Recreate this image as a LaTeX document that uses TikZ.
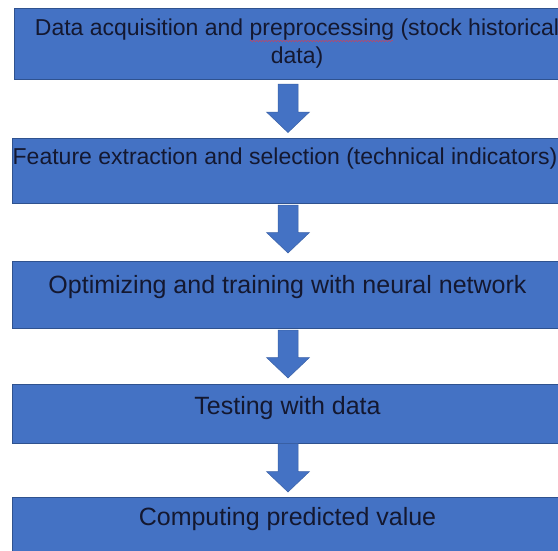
\documentclass[tikz,border=0pt]{standalone}
\usepackage{fontspec}
\setmainfont{Liberation Sans}
\usetikzlibrary{calc,decorations.pathmorphing}
\definecolor{boxblue}{HTML}{4472C4}
\definecolor{boxedge}{HTML}{2F528F}
\definecolor{txtcol}{HTML}{141830}
\definecolor{spellred}{HTML}{D0405A}
\tikzset{
  stepbox/.style={rectangle, draw=boxedge, line width=0.8pt, fill=boxblue, inner sep=0pt, outer sep=0pt},
  boxtext/.style={inner sep=0pt, outer sep=0pt, anchor=base, text=txtcol, font=\fontsize{25}{30}\selectfont},
  smalltext/.style={boxtext, font=\fontsize{23}{28}\selectfont},
  blockarrow/.style={fill=boxblue, draw=boxblue!85!black, line width=0.5pt, line join=miter}
}
% #1 from node, #2 to node, #3 gap below #1, #4 gap above #2
\newcommand\blockarr[4]{%
  \path[blockarrow] let \p1=($(#1.south)+(0,-#3pt)$), \p2=($(#2.north)+(0,#4pt)$) in
    (\x1-10pt,\y1) -- (\x1+10pt,\y1) -- (\x1+10pt,\y2+20.5pt) -- (\x1+21.5pt,\y2+20.5pt)
    -- (\x1,\y2) -- (\x1-21.5pt,\y2+20.5pt) -- (\x1-10pt,\y2+20.5pt) -- cycle;}
\begin{document}
\begin{tikzpicture}
\useasboundingbox (0,0) rectangle (558pt,-550pt);
\clip (0,0) rectangle (558pt,-550pt);
\fill[white] (0,0) rectangle (558pt,-550pt);
% boxes
\node[stepbox, minimum width=548pt, minimum height=71pt] (b1) at (288pt,-43.5pt) {};
\node[stepbox, minimum width=552pt, minimum height=65pt] (b2) at (288pt,-170.5pt) {};
\node[stepbox, minimum width=552pt, minimum height=67pt] (b3) at (288pt,-294.5pt) {};
\node[stepbox, minimum width=552pt, minimum height=59pt] (b4) at (288pt,-413.5pt) {};
\node[stepbox, minimum width=552pt, minimum height=68pt] (b5) at (288pt,-531pt) {};
% texts
\node[smalltext] (t1a) at (297pt,-35pt) {Data acquisition and preprocessing (stock historical};
\node[smalltext] (t1b) at (297pt,-63pt) {data)};
\node[smalltext] (t2) at (285pt,-164pt) {Feature extraction and selection (technical indicators)};
\node[boxtext] (t3) at (287.5pt,-293pt) {Optimizing and training with neural network};
\node[boxtext] (t4) at (287.5pt,-414pt) {Testing with data};
\node[boxtext] (t5) at (287.5pt,-525pt) {Computing predicted value};
% spell-check squiggle under "preprocessing"
\draw[spellred, line width=0.5pt, decorate, decoration={snake, amplitude=0.7pt, segment length=3pt}]
  ($(t1a.base west)+(215pt,-6pt)$) -- ($(t1a.base west)+(358pt,-6pt)$);
% arrows
\blockarr{b1}{b2}{5}{5.5}
\blockarr{b2}{b3}{2}{8}
\blockarr{b3}{b4}{2}{6}
\blockarr{b4}{b5}{0.5}{5}
\end{tikzpicture}
\end{document}
